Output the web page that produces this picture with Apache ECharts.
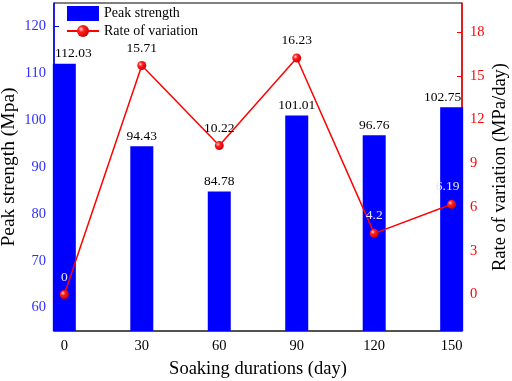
<!DOCTYPE html>
<html>
<head>
<meta charset="utf-8">
<script src="https://cdn.jsdelivr.net/npm/echarts@6/dist/echarts.min.js"></script>
<style>
  html, body { margin: 0; padding: 0; background: #fff; }
  #chart { width: 512px; height: 381px; }
</style>
</head>
<body>
<div id="chart"></div>
<script>
const days = [0, 30, 60, 90, 120, 150];
const peakStrength = [112.03, 94.43, 84.78, 101.01, 96.76, 102.75];
const rateOfVariation = [0, 15.71, 10.22, 16.23, 4.2, 6.19];
const xTicks = [0, 30, 60, 90, 120, 150];
const leftTicks = [60, 70, 80, 90, 100, 110, 120];
const rightTicks = [0, 3, 6, 9, 12, 15, 18];

// rate labels sitting on top of a blue bar are drawn light
const rateLabelOnBar = [true, false, false, false, true, true];
// edge labels are nudged inside the plot, like the original
const barLabelShift = [9, 0, 0, 0, 0, -9];

const font = '"Liberation Serif", "DejaVu Serif", serif';

const chart = echarts.init(document.getElementById('chart'));
chart.setOption({
  animation: false,
  textStyle: { fontFamily: font },
  grid: {
    left: 54,
    right: 50,
    top: 3,
    bottom: 50,
    outerBoundsMode: 'none',
    containLabel: false,
    show: true,
    borderColor: '#000',
    borderWidth: 1,
  },
  legend: {
    orient: 'vertical',
    left: 61,
    top: 1,
    itemWidth: 32,
    itemHeight: 15,
    itemGap: 3,
    textStyle: { fontFamily: font, fontSize: 14, color: '#000' },
    data: [{ name: 'Peak strength', icon: 'rect' }, { name: 'Rate of variation' }],
  },
  xAxis: {
    type: 'value',
    min: -4,
    max: 154,
    name: 'Soaking durations (day)',
    nameLocation: 'middle',
    nameGap: 29,
    nameMoveOverlap: false,
    nameTextStyle: { fontFamily: font, fontSize: 18.5, color: '#000' },
    axisLine: { show: true, onZero: false, lineStyle: { color: '#444', width: 1.5 } },
    axisTick: { show: false },
    splitLine: { show: false },
    axisLabel: {
      customValues: xTicks,
      margin: 8,
      fontFamily: font,
      fontSize: 14.5,
      color: '#000',
    },
  },
  yAxis: [
    {
      type: 'value',
      min: 55,
      max: 125,
      position: 'left',
      name: 'Peak strength (Mpa)',
      nameLocation: 'middle',
      nameGap: 35,
      nameMoveOverlap: false,
      nameTextStyle: { fontFamily: font, fontSize: 19.5, color: '#000' },
      axisLine: { show: true, onZero: false, lineStyle: { color: '#0000ff', width: 1.5 } },
      axisTick: { show: true, customValues: leftTicks, inside: true, length: 5, lineStyle: { color: '#0000ff' } },
      splitLine: { show: false },
      axisLabel: {
        customValues: leftTicks,
        margin: 8,
        fontFamily: font,
        fontSize: 14.5,
        color: '#2f2fff',
      },
    },
    {
      type: 'value',
      min: -2.5,
      max: 20,
      position: 'right',
      name: 'Rate of variation (MPa/day)',
      nameLocation: 'middle',
      nameGap: 29,
      nameRotate: 90,
      nameMoveOverlap: false,
      nameTextStyle: { fontFamily: font, fontSize: 18.5, color: '#000' },
      axisLine: { show: true, onZero: false, lineStyle: { color: '#ff0000', width: 1.5 } },
      axisTick: { show: true, customValues: rightTicks, inside: true, length: 5, lineStyle: { color: '#ff0000' } },
      splitLine: { show: false },
      axisLabel: {
        customValues: rightTicks,
        margin: 8,
        fontFamily: font,
        fontSize: 14.5,
        color: '#ff0000',
      },
    },
  ],
  series: [
    {
      name: 'Peak strength',
      type: 'bar',
      yAxisIndex: 0,
      barWidth: 23,
      itemStyle: { color: '#0000ff' },
      data: days.map((d, i) => ({
        value: [d, peakStrength[i]],
        label: { offset: [barLabelShift[i], 0] },
      })),
      label: {
        show: true,
        position: 'top',
        distance: 3,
        fontFamily: font,
        fontSize: 13.5,
        color: '#000',
        formatter: (p) => p.value[1].toFixed(2),
      },
      z: 2,
    },
    {
      name: 'Rate of variation',
      type: 'line',
      yAxisIndex: 1,
      symbol: 'circle',
      symbolSize: 9,
      lineStyle: { color: '#ff0000', width: 1.5 },
      itemStyle: {
        color: new echarts.graphic.RadialGradient(0.35, 0.35, 0.7, [
          { offset: 0, color: '#ffd0d0' },
          { offset: 0.35, color: '#ff2020' },
          { offset: 1, color: '#cc0000' },
        ]),
        borderWidth: 0,
      },
      data: days.map((d, i) => ({
        value: [d, rateOfVariation[i]],
        label: {
          color: rateLabelOnBar[i] ? '#e6e6ff' : '#000',
          offset: i === days.length - 1 ? [-4, 0] : [0, 0],
        },
      })),
      label: {
        show: true,
        position: 'top',
        distance: 6,
        fontFamily: font,
        fontSize: 13.5,
        formatter: (p) => String(p.value[1]),
      },
      z: 3,
    },
  ],
});
</script>
</body>
</html>
